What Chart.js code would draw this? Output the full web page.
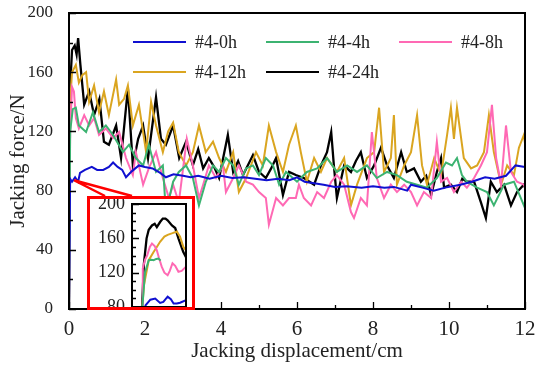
<!DOCTYPE html>
<html>
<head>
<meta charset="utf-8">
<script src="https://cdn.jsdelivr.net/npm/chart.js@4.4.1/dist/chart.umd.min.js"></script>
<style>
  html, body { margin: 0; padding: 0; background: #fff; }
  #wrap { position: relative; width: 535px; height: 370px; }
  #main { position: absolute; left: 0; top: 0; }
  #insetBox { position: absolute; left: 87px; top: 196px; width: 102px; height: 108px;
              border: 3px solid #f00; background: #fff; overflow: hidden; }
  #inset { display: block; }
</style>
</head>
<body>
<div id="wrap">
  <canvas id="main" width="535" height="370"></canvas>
  <div id="insetBox"><canvas id="inset" width="102" height="108"></canvas></div>
</div>
<script>
"use strict";

// series names and colours
const seriesNames = ['#4-0h', '#4-4h', '#4-8h', '#4-12h', '#4-24h'];
const seriesColors = ['#1010d0', '#3cb371', '#ff69b4', '#daa520', '#000000'];

// [displacement (cm), force (N)]
const s0h = [[0,0],[0.03,88],[0.08,86],[0.16,89],[0.24,86],[0.29,92],[0.42,94],[0.6,96],[0.74,94],[0.9,94],[1.05,96],
  [1.16,99],[1.28,96],[1.4,94],[1.5,89],[1.65,93],[1.84,97],[2.0,96],[2.2,95],[2.4,92],[2.55,89],[2.75,91],[3.0,90],
  [3.2,89],[3.4,90],[3.7,88],[4.0,90],[4.3,88.5],[4.6,89],[4.9,88],[5.2,87],[5.5,88],[5.8,87],[6.0,89],[6.2,86],
  [6.45,85],[6.7,84],[7.0,82.5],[7.3,83],[7.7,82],[8.0,83],[8.3,82],[8.55,82.5],[8.9,80],[9.0,84],[9.3,82],[9.6,80],
  [9.9,82],[10.3,84],[10.6,86],[10.95,89],[11.2,88],[11.5,90],[11.75,97],[12,96]];
const s4h = [[0,0],[0.03,120],[0.1,135],[0.18,136],[0.26,124],[0.45,119.6],[0.63,133],[0.79,119.6],[0.97,124],[1.16,117.6],
  [1.42,106],[1.58,111],[1.76,102],[1.95,97],[2.1,111],[2.29,92.6],[2.47,97],[2.55,65.5],[2.74,86],[2.89,92.6],[3.08,97],
  [3.26,88.5],[3.42,70],[3.6,86],[3.79,97],[3.95,92.6],[4.13,102],[4.32,97],[4.47,84],[4.66,95],[4.84,97],[5.0,90.5],
  [5.18,102],[5.37,97],[5.53,84],[5.71,92.6],[5.89,88.5],[6.0,86],[6.26,92.6],[6.53,95],[6.79,102],[7.05,92.6],[7.32,97],
  [7.58,92.6],[7.84,97],[8.1,88.5],[8.37,92.6],[8.63,90.5],[8.89,86],[9.16,84],[9.42,82],[9.68,88.5],[9.92,99],[10.08,97],
  [10.21,102],[10.34,90.5],[10.47,86],[10.74,82],[11.0,79],[11.18,70],[11.45,84],[11.71,86],[11.97,70],[12,72]];
const s8h = [[0,0],[0.03,120],[0.08,150],[0.13,147],[0.18,129],[0.26,122],[0.4,131],[0.53,124],[0.66,129],[0.79,117.6],
  [0.97,122],[1.16,115.5],[1.32,119.6],[1.5,102],[1.68,90.5],[1.76,106],[1.95,84],[2.1,95],[2.29,106],[2.47,88.5],
  [2.63,75],[2.74,84],[2.89,72],[3.1,115],[3.26,97],[3.42,75],[3.53,84],[3.68,97],[3.87,88.5],[4.05,97],[4.13,79],
  [4.32,88.5],[4.47,97],[4.66,86],[4.84,84],[5.0,79],[5.18,75],[5.26,57],[5.45,75],[5.63,70],[5.79,75],[5.97,75],
  [6.05,84],[6.18,75],[6.37,70],[6.53,79],[6.71,75],[6.9,86],[7.05,90.5],[7.24,84],[7.42,65.5],[7.5,61.5],[7.68,75],
  [7.84,70],[7.97,119.6],[8.1,88.5],[8.29,75],[8.47,84],[8.63,79],[8.82,84],[9.0,79],[9.16,70],[9.34,79],[9.53,75],
  [9.68,113],[9.79,86],[9.95,88.5],[10.13,79],[10.32,86],[10.47,82],[10.66,88.5],[10.84,97],[11.0,106],[11.13,138],
  [11.24,102],[11.37,84],[11.5,124],[11.63,92.6],[11.79,86],[11.97,84],[12,82]];
const s12h = [[0,0],[0.03,140],[0.08,160],[0.18,165],[0.26,153],[0.35,158],[0.45,160],[0.53,140],[0.66,151],[0.79,133],
  [0.92,147],[1.05,131],[1.24,155],[1.32,138],[1.45,142],[1.55,151],[1.68,124],[1.84,138],[2.03,106],[2.16,140],
  [2.29,124],[2.47,106],[2.61,120],[2.74,126],[2.89,106],[3.08,97],[3.26,106],[3.42,124],[3.6,106],[3.79,113],[3.95,102],
  [4.13,92.6],[4.32,106],[4.47,79],[4.66,88.5],[4.92,106],[5.1,97],[5.26,124],[5.45,106],[5.63,92.6],[5.79,111],
  [5.97,124],[6.1,106],[6.26,86],[6.45,102],[6.63,92.6],[6.79,102],[7.05,92.6],[7.24,102],[7.42,70],[7.58,84],[7.84,102],
  [8.03,106],[8.16,136],[8.29,92.6],[8.47,102],[8.55,131],[8.63,84],[8.82,97],[9.0,106],[9.16,131],[9.29,97],[9.42,84],
  [9.61,102],[9.79,90.5],[9.95,117.6],[10.05,136],[10.13,115],[10.21,136],[10.39,102],[10.58,95],[10.74,97],[10.92,106],
  [11.05,131],[11.18,106],[11.37,84],[11.53,97],[11.71,90.5],[11.84,109],[11.97,117.6],[12,112]];
const s24h = [[0,0],[0.03,150],[0.08,175],[0.15,178],[0.2,172],[0.24,183],[0.3,165],[0.4,138],[0.53,147],[0.66,131],
  [0.8,142],[0.92,113],[1.05,111],[1.24,124],[1.37,102],[1.55,149],[1.68,97],[1.82,115],[1.95,124],[2.08,102],[2.29,143],
  [2.42,115],[2.55,111],[2.74,124],[2.9,102],[3.08,113],[3.26,97],[3.4,108],[3.53,95],[3.68,102],[3.82,96],[3.95,88.5],
  [4.18,117.6],[4.32,92.6],[4.45,100],[4.58,90.5],[4.84,104],[5.0,92.6],[5.18,88.5],[5.32,95],[5.45,102],[5.63,77],
  [5.79,92.6],[5.97,90.5],[6.18,88.5],[6.45,84],[6.63,97],[6.79,106],[6.9,119.6],[6.97,97],[7.05,75],[7.24,97],[7.42,92.6],
  [7.55,100],[7.68,106],[7.84,88.5],[8.03,97],[8.21,109],[8.37,97],[8.55,88.5],[8.74,106],[8.89,92.6],[9.08,95],[9.26,86],
  [9.4,90],[9.53,77],[9.68,92.6],[9.79,102],[9.87,82],[10.05,84],[10.21,79],[10.35,88],[10.47,86],[10.66,86],[10.84,72],
  [10.97,61.5],[11.1,86],[11.26,79],[11.45,84],[11.63,70],[11.79,79],[11.97,84],[12,82]];

// inset: first part of the curves, x as a fraction of the zoomed window
const i0h = [[0.24,70],[0.25,82],[0.34,88.5],[0.43,89.8],[0.52,84.7],[0.58,86],[0.66,92],[0.72,89],[0.77,84],[0.83,84],[0.89,85],[1.0,88]];
const i4h = [[0.18,70],[0.24,120],[0.31,134.5],[0.36,135],[0.4,134.5],[0.45,136],[0.49,136.5],[0.53,134]];
const i8h = [[0.19,70],[0.2,125],[0.24,135],[0.28,140],[0.33,150],[0.37,154],[0.42,151],[0.46,146],[0.5,137],[0.55,127],
  [0.6,120],[0.66,117],[0.7,122],[0.75,131],[0.8,128],[0.86,121],[0.92,122],[1.0,127]];
const i12h = [[0.18,70],[0.22,105],[0.25,115],[0.31,134.5],[0.4,144],[0.46,150],[0.52,156],[0.6,162],[0.66,164],[0.75,166],
  [0.83,168],[0.89,162],[0.95,150],[1.0,146]];
const i24h = [[0.18,70],[0.22,130],[0.27,160],[0.31,170],[0.37,175],[0.42,177],[0.46,173],[0.52,179],[0.57,183],[0.62,183],
  [0.66,181],[0.74,175],[0.8,172],[0.86,160],[0.95,144],[1.0,138]];

const yTicksMain = [0, 40, 80, 120, 160, 200];
const xTicksMain = [0, 2, 4, 6, 8, 10, 12];
const yTicksInset = [80, 120, 160, 200];

const mainSeries = [s0h, s4h, s8h, s12h, s24h];
const insetSeries = [i0h, i4h, i8h, i12h, i24h];
const serif = "'Liberation Serif', 'Times New Roman', serif";

function toPoints(arr) { return arr.map(p => ({ x: p[0], y: p[1] })); }

function makeDatasets(list) {
    return list.map((arr, i) => ({
        label: seriesNames[i],
        data: toPoints(arr),
        borderColor: seriesColors[i],
        borderWidth: i === 4 ? 2.3 : 2,
        pointRadius: 0,
        tension: 0,
        fill: false
    }));
}

// keep the plot box where the picture has it (no extra room for end labels)
function noPad(s) { s.paddingTop = 0; s.paddingBottom = 0; s.paddingLeft = 0; s.paddingRight = 0; }

// box frame + inward ticks
const frameTicks = {
    id: 'frameTicks',
    afterDatasetsDraw(chart, args, o) {
        const { ctx, chartArea: a, scales: { x, y } } = chart;
        ctx.save();
        ctx.strokeStyle = '#000';
        ctx.lineWidth = 1.3;
        ctx.beginPath();
        if (o.xMinor) {
            for (let v = x.min; v <= x.max + 1e-9; v += o.xMinor) {
                const major = Math.abs(v / o.xMajor - Math.round(v / o.xMajor)) < 1e-6;
                const px = Math.round(x.getPixelForValue(v)) + 0.5;
                ctx.moveTo(px, a.bottom);
                ctx.lineTo(px, a.bottom - (major ? 7 : 4));
            }
        }
        if (o.yMinor) {
            for (let v = y.min; v <= y.max + 1e-9; v += o.yMinor) {
                const major = Math.abs(v / o.yMajor - Math.round(v / o.yMajor)) < 1e-6;
                const py = Math.round(y.getPixelForValue(v)) + 0.5;
                ctx.moveTo(a.left, py);
                ctx.lineTo(a.left + (major ? 7 : 4), py);
            }
        }
        ctx.stroke();
        ctx.lineWidth = o.frame;
        ctx.strokeRect(a.left, a.top, a.right - a.left, a.bottom - a.top);
        ctx.restore();
    }
};

// legend lines and callout to the inset
const mainDecor = {
    id: 'mainDecor',
    afterDatasetsDraw(chart, args, o) {
        const { ctx, scales: { x, y } } = chart;
        ctx.save();
        // callout
        const ax = x.getPixelForValue(o.calloutAt[0]);
        const ay = y.getPixelForValue(o.calloutAt[1]);
        ctx.strokeStyle = '#f00';
        ctx.lineWidth = 2.5;
        ctx.beginPath();
        ctx.moveTo(ax, ay); ctx.lineTo(o.calloutEnds[0], o.calloutEnds[2]);
        ctx.moveTo(ax, ay); ctx.lineTo(o.calloutEnds[1], o.calloutEnds[2]);
        ctx.stroke();
        // legend
        ctx.font = '18px ' + serif;
        ctx.textBaseline = 'middle';
        ctx.fillStyle = '#222';
        o.legendPos.forEach((p, i) => {
            ctx.strokeStyle = seriesColors[i];
            ctx.lineWidth = 2.2;
            ctx.beginPath();
            ctx.moveTo(p[0], p[1]);
            ctx.lineTo(p[0] + 53, p[1]);
            ctx.stroke();
            ctx.fillText(seriesNames[i], p[0] + 62, p[1] + 1);
        });
        ctx.restore();
    }
};

new Chart(document.getElementById('main'), {
    type: 'line',
    data: { datasets: makeDatasets(mainSeries) },
    options: {
        responsive: false,
        animation: false,
        layout: { padding: { top: 13, right: 10, left: 0, bottom: 0 } },
        plugins: {
            legend: { display: false },
            tooltip: { enabled: false },
            frameTicks: { xMinor: 1, xMajor: 2, yMinor: 20, yMajor: 40, frame: 2 },
            mainDecor: {
                calloutAt: [0.13, 87],
                calloutEnds: [105, 132, 196],
                legendPos: [[133, 42], [266, 42], [399, 42], [133, 72], [266, 72]]
            }
        },
        scales: {
            x: {
                type: 'linear', min: 0, max: 12,
                afterFit: s => { s.height = 61; noPad(s); },
                afterBuildTicks: s => { s.ticks = xTicksMain.map(v => ({ value: v })); },
                grid: { display: false, drawTicks: false },
                border: { display: false },
                ticks: { font: { family: serif, size: 21 }, color: '#222', padding: 8, maxRotation: 0 },
                title: { display: true, text: 'Jacking displacement/cm', color: '#222',
                         font: { family: serif, size: 21 }, padding: { top: 0, bottom: 6 } }
            },
            y: {
                min: 0, max: 200,
                afterFit: s => { s.width = 69; noPad(s); },
                afterBuildTicks: s => { s.ticks = yTicksMain.map(v => ({ value: v })); },
                grid: { display: false, drawTicks: false },
                border: { display: false },
                ticks: { font: { family: serif, size: 17 }, color: '#222', padding: 16 },
                title: { display: true, text: 'Jacking force/N', color: '#222',
                         font: { family: serif, size: 21 }, padding: { top: 6, bottom: 0 } }
            }
        }
    },
    plugins: [frameTicks, mainDecor]
});

new Chart(document.getElementById('inset'), {
    type: 'line',
    data: { datasets: makeDatasets(insetSeries) },
    options: {
        responsive: false,
        animation: false,
        layout: { padding: { top: 5, right: 6, left: 0, bottom: 0 } },
        plugins: {
            legend: { display: false },
            tooltip: { enabled: false },
            frameTicks: { yMinor: 10, yMajor: 40, frame: 2 }
        },
        scales: {
            x: { type: 'linear', min: 0, max: 1, display: false, afterFit: s => { s.height = 0; noPad(s); } },
            y: {
                min: 80, max: 200,
                afterFit: s => { s.width = 42; noPad(s); },
                afterBuildTicks: s => { s.ticks = yTicksInset.map(v => ({ value: v })); },
                grid: { display: false, drawTicks: false },
                border: { display: false },
                ticks: { font: { family: serif, size: 18 }, color: '#222', padding: 7 }
            }
        }
    },
    plugins: [frameTicks]
});
</script>
</body>
</html>
